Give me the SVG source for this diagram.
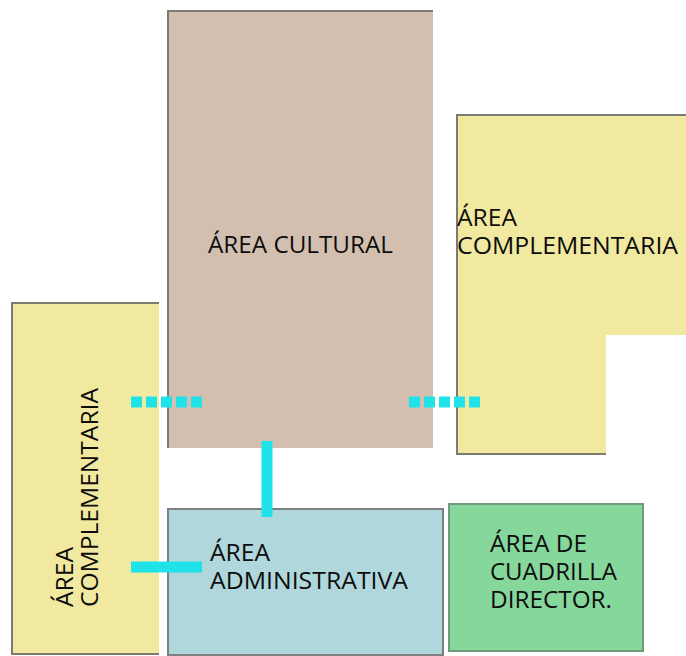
<svg xmlns="http://www.w3.org/2000/svg" width="686" height="656" viewBox="0 0 686 656">
<style>
.lbl{font-family:"Open Sans","Noto Sans","Liberation Sans",sans-serif;font-size:23px;fill:#0d0d0d}
.edge{fill:none;stroke:#7d7a72;stroke-width:2}
.link{stroke:#1fe3e8;stroke-width:11;fill:none}
.dots{stroke:#1fe3e8;stroke-width:11;fill:none;stroke-dasharray:11 4}
</style>
<rect width="686" height="656" fill="#ffffff"/>
<g id="cultural">
<rect x="168" y="11" width="265" height="437" fill="#d3bfb0"/>
<path class="edge" d="M168,448 V11 H433"/>
<text class="lbl" x="208" y="253" textLength="185" lengthAdjust="spacingAndGlyphs">ÁREA CULTURAL</text>
</g>
<g id="complementaria-derecha">
<polygon points="457,115 686,115 686,335 606,335 606,454 457,454" fill="#f2e9a0"/>
<path class="edge" d="M686,115 H457 V454 H606"/>
<text class="lbl" x="457" y="226" textLength="60" lengthAdjust="spacingAndGlyphs">ÁREA</text>
<text class="lbl" x="457" y="254" textLength="221" lengthAdjust="spacingAndGlyphs">COMPLEMENTARIA</text>
</g>
<g id="complementaria-izquierda">
<rect x="12" y="303" width="147" height="351" fill="#f2e9a0"/>
<path class="edge" d="M159,303 H12 V654 H159"/>
<g transform="translate(73,607) rotate(-90)">
<text class="lbl" x="0" y="0" textLength="60" lengthAdjust="spacingAndGlyphs">ÁREA</text>
<text class="lbl" x="0" y="25" textLength="219" lengthAdjust="spacingAndGlyphs">COMPLEMENTARIA</text>
</g>
</g>
<g id="administrativa">
<rect x="168" y="509" width="275" height="146" fill="#b0d7dc" stroke="#7d7f80" stroke-width="2"/>
<text class="lbl" x="210" y="561" textLength="60" lengthAdjust="spacingAndGlyphs">ÁREA</text>
<text class="lbl" x="210" y="589" textLength="198" lengthAdjust="spacingAndGlyphs">ADMINISTRATIVA</text>
</g>
<g id="cuadrilla">
<rect x="449" y="504" width="194" height="147" fill="#86d79b" stroke="#6f9a7c" stroke-width="2"/>
<text class="lbl" x="490" y="552" textLength="97" lengthAdjust="spacingAndGlyphs">ÁREA DE</text>
<text class="lbl" x="490" y="580" textLength="127" lengthAdjust="spacingAndGlyphs">CUADRILLA</text>
<text class="lbl" x="490" y="608" textLength="122" lengthAdjust="spacingAndGlyphs">DIRECTOR.</text>
</g>
<g id="connectors">
<line class="dots" x1="131" y1="402" x2="202" y2="402"/>
<line class="dots" x1="409" y1="402" x2="480" y2="402"/>
<line class="link" x1="267" y1="441" x2="267" y2="517"/>
<line class="link" x1="131" y1="567" x2="202" y2="567"/>
</g>
</svg>
